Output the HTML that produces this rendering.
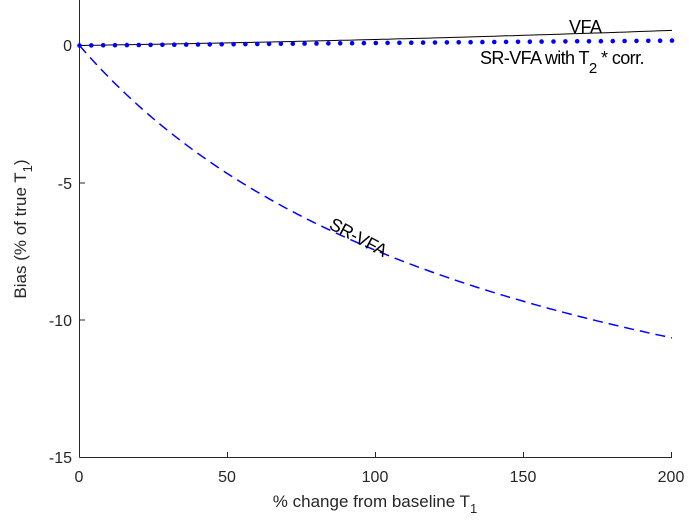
<!DOCTYPE html>
<html><head><style>body{margin:0;background:#fff}svg{display:block;font-family:"Liberation Sans",Arial,sans-serif}</style></head>
<body>
<svg id="s" width="689" height="530" viewBox="0 0 689 530">
<g stroke="#262626" stroke-width="1" fill="none">
<line x1="79.5" y1="0" x2="79.5" y2="457.5"/>
<line x1="79.5" y1="457.5" x2="672" y2="457.5"/>
<line x1="79.5" y1="45.5" x2="85" y2="45.5"/>
<line x1="79.5" y1="183" x2="85" y2="183"/>
<line x1="79.5" y1="320" x2="85" y2="320"/>
<line x1="227.5" y1="457.5" x2="227.5" y2="452"/>
<line x1="375.5" y1="457.5" x2="375.5" y2="452"/>
<line x1="523.5" y1="457.5" x2="523.5" y2="452"/>
<line x1="671.5" y1="457.5" x2="671.5" y2="452"/>
</g>
<g font-size="16" fill="#262626" text-anchor="end">
<text x="72" y="51">0</text><text x="72" y="189">-5</text><text x="72" y="326">-10</text><text x="72" y="463">-15</text>
</g>
<g font-size="16" fill="#262626" text-anchor="middle">
<text x="79" y="482">0</text><text x="227" y="482">50</text><text x="375" y="482">100</text><text x="523" y="482">150</text><text x="671" y="482">200</text>
<text x="375" y="507" font-size="17">% change from baseline T<tspan font-size="13" dy="6">1</tspan></text>
</g>
<text transform="translate(26,229) rotate(-90)" font-size="17" fill="#262626" text-anchor="middle">Bias (% of true T<tspan font-size="13" dy="6">1</tspan><tspan dy="-6">)</tspan></text>
<path id="vfa" stroke="#000" stroke-width="1" fill="none"/>
<path id="sr" stroke="#0000ff" stroke-width="1.5" fill="none" stroke-dasharray="10,6"/>
<g id="dots" fill="#0000ff"></g>
<text x="569" y="33" font-size="18" fill="#000" letter-spacing="-0.5">VFA</text>
<text x="480" y="64" font-size="18" fill="#000" letter-spacing="-0.6">SR-VFA with T<tspan font-size="15" dy="9">2</tspan><tspan dy="-9"> * corr.</tspan></text>
<text transform="translate(328,228) rotate(28)" font-size="18" fill="#000" letter-spacing="-0.5">SR-VFA</text>
</svg>
<script>
function px(x){return 79.5+x*592.5/200}
function py(y){return 45.5-y*27.45}
var a="",b="";
for(var x=0;x<=200;x+=2){
 var v=0.55*(0.6*x/200+0.4*Math.pow(x/200,2));
 var s=-18.58*x/(x+148.9);
 a+=(x?"L":"M")+px(x).toFixed(1)+","+py(v).toFixed(1);
 b+=(x?"L":"M")+px(x).toFixed(1)+","+py(s).toFixed(1);
}
document.getElementById("vfa").setAttribute("d",a);
document.getElementById("sr").setAttribute("d",b);
var g=document.getElementById("dots"),h="";
for(var x=0;x<=200.01;x+=4){
 var v=0.18*x/200;
 h+='<circle cx="'+px(x).toFixed(1)+'" cy="'+py(v).toFixed(1)+'" r="2.3"/>';
}
g.innerHTML=h;
</script>
</body></html>
